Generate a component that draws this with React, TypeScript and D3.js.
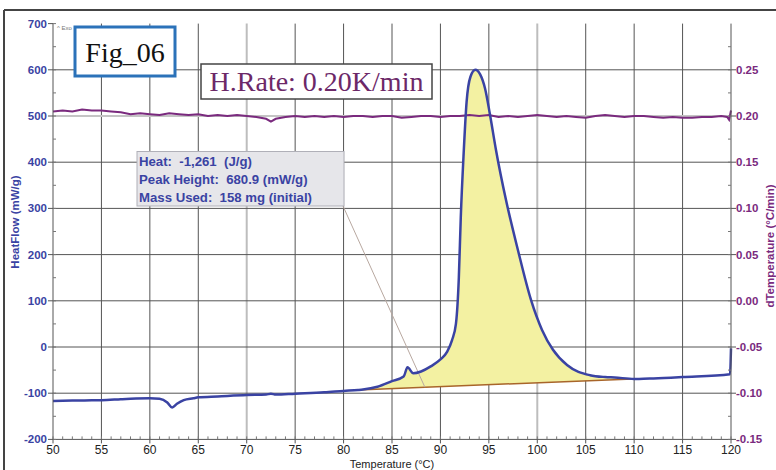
import React from "react";
import * as d3 from "d3";

const heatT = [50, 52, 54, 55, 57, 58, 60, 61, 61.8, 62.3, 62.8, 63.5, 64.5, 65, 67, 70, 72, 72.5, 73, 75, 78, 80, 81.5, 82, 83.5, 85, 86.2, 86.6, 87.2, 88, 89, 90, 90.7, 91.2, 91.6, 91.9, 92.1, 92.4, 92.7, 93.1, 93.6, 94.1, 94.6, 95.1, 95.74, 96.77, 98.0, 99.35, 100.49, 101.62, 103.07, 105.44, 107, 108, 110, 110.5, 112, 115, 119.9, 120];
const heatV = [-117, -116, -115.5, -115, -113, -112, -111, -112, -120, -131, -123, -115, -111, -109, -107, -104, -103, -101, -103, -101, -98, -95, -93, -92, -86, -74, -64, -44, -57, -53, -42, -27, -10, 15, 50, 150, 280, 420, 530, 585, 600, 590, 560, 505, 426, 318, 210, 102, 37, -6, -39, -61, -65, -66, -69, -69, -68, -65, -59, -3];

const dtT = [50, 51, 52, 53, 54, 55, 56, 57, 58, 59, 60, 61, 62, 63, 64, 65, 66, 67, 68, 69, 70, 71, 72, 72.5, 73, 74, 75, 76, 77, 78, 79, 80, 81, 82, 83, 84, 85, 86, 87, 88, 89, 90, 91, 92, 93, 94, 95, 96, 97, 98, 99, 100, 101, 102, 103, 104, 105, 106, 107, 108, 109, 110, 111, 112, 113, 114, 115, 116, 117, 118, 119, 119.6, 119.8, 120];
const dtV = [0.205, 0.206, 0.205, 0.207, 0.206, 0.206, 0.205, 0.204, 0.202, 0.203, 0.202, 0.201, 0.203, 0.202, 0.201, 0.202, 0.2, 0.201, 0.2, 0.201, 0.2, 0.199, 0.197, 0.194, 0.197, 0.199, 0.2, 0.199, 0.2, 0.199, 0.2, 0.199, 0.2, 0.2, 0.199, 0.2, 0.2, 0.198, 0.199, 0.2, 0.2, 0.199, 0.2, 0.2, 0.201, 0.2, 0.201, 0.199, 0.2, 0.199, 0.2, 0.201, 0.2, 0.199, 0.2, 0.199, 0.198, 0.2, 0.201, 0.2, 0.199, 0.2, 0.2, 0.199, 0.198, 0.199, 0.198, 0.198, 0.199, 0.199, 0.2, 0.199, 0.196, 0.206];

const baselineT = [81.5, 110.5];
const baselineV = [-93, -68.5];

const xTicks = [50, 55, 60, 65, 70, 75, 80, 85, 90, 95, 100, 105, 110, 115, 120];
const yTicks = [-200, -100, 0, 100, 200, 300, 400, 500, 600, 700];
const y2Ticks = [-0.15, -0.1, -0.05, 0, 0.05, 0.1, 0.15, 0.2, 0.25];
const infoLines = ["Heat:  -1,261  (J/g)", "Peak Height:  680.9 (mW/g)", "Mass Used:  158 mg (initial)"];

const W = 776, H = 470;
const L = 53, R = 731, T = 23.6, B = 439.4;
const BLUE = "#3a43a3";
const PURPLE = "#7a2a7e";
const SANS = "'Liberation Sans', Arial, sans-serif";
const SERIF = "'Liberation Serif', 'Times New Roman', serif";

export default function App() {
  const x = d3.scaleLinear().domain([50, 120]).range([L, R]);
  const y = d3.scaleLinear().domain([-200, 700]).range([B, T]);
  const y2 = d3.scaleLinear().domain([-0.15, 0.3]).range([B, T]);

  const heat = heatT.map((t, i) => [t, heatV[i]] as [number, number]);
  const dt = dtT.map((t, i) => [t, dtV[i]] as [number, number]);
  const base = (t: number) => baselineV[0] + (t - baselineT[0]) * (baselineV[1] - baselineV[0]) / (baselineT[1] - baselineT[0]);

  const heatLine = d3.line<[number, number]>().x(d => x(d[0])).y(d => y(d[1])).curve(d3.curveMonotoneX);
  const dtLine = d3.line<[number, number]>().x(d => x(d[0])).y(d => y2(d[1])).curve(d3.curveLinear);
  const fillPts = heat.filter(d => d[0] >= baselineT[0] && d[0] <= baselineT[1]);
  const area = d3.area<[number, number]>().x(d => x(d[0])).y0(d => y(base(d[0]))).y1(d => y(Math.max(d[1], base(d[0])))).curve(d3.curveMonotoneX);

  const minorX = d3.range(50, 120.01, 1);
  const minorY = d3.range(-200, 700.01, 50);
  const minorY2 = d3.range(-0.15, 0.2901, 0.025);

  const lightX = [70, 100];

  return (
    <svg width={W} height={H} style={{ position: "absolute", left: 0, top: 0, background: "#fff" }}>
      <rect x={0} y={0} width={W} height={H} fill="#fff" />
      <line x1={4} y1={10} x2={W} y2={10} stroke="#444" strokeWidth={2} />
      <line x1={4} y1={10} x2={4} y2={H} stroke="#444" strokeWidth={2} />

      {xTicks.slice(1, -1).map(t => (
        <line key={"gx" + t} x1={x(t)} x2={x(t)} y1={T} y2={B}
          stroke={lightX.includes(t) ? "#bdbdbd" : "#555"} strokeWidth={lightX.includes(t) ? 2 : 1} />
      ))}
      {yTicks.slice(1, -1).map(v => (
        <line key={"gy" + v} x1={L} x2={R} y1={y(v)} y2={y(v)} stroke={v === 500 ? "#c4c4c4" : "#555"} strokeWidth={v === 500 ? 2 : 1} />
      ))}

      <path d={area(fillPts) || ""} fill="#f3f1a2" />
      <line x1={x(baselineT[0])} y1={y(baselineV[0])} x2={x(baselineT[1])} y2={y(baselineV[1])} stroke="#a8652a" strokeWidth={1.5} />

      <line x1={343} y1={206} x2={x(88.4)} y2={y(base(88.4))} stroke="#b8a8a0" strokeWidth={1} />

      <path d={dtLine(dt) || ""} fill="none" stroke={PURPLE} strokeWidth={2} />
      <path d={heatLine(heat) || ""} fill="none" stroke={BLUE} strokeWidth={2.5} />

      <line x1={L} x2={L} y1={T} y2={B} stroke="#555" strokeWidth={1} />
      <line x1={R} x2={R} y1={T} y2={B} stroke="#555" strokeWidth={1} />
      <line x1={L} x2={R} y1={B} y2={B} stroke="#555" strokeWidth={1} />

      {minorX.map(t => (
        <line key={"mx" + t} x1={x(t)} x2={x(t)} y1={B} y2={B - 3} stroke="#777" />
      ))}
      {minorY.map(v => (
        <line key={"my" + v} x1={L} x2={L + 3} y1={y(v)} y2={y(v)} stroke="#777" />
      ))}
      {minorY2.map((v, i) => (
        <line key={"my2" + i} x1={R} x2={R - 3} y1={y2(v)} y2={y2(v)} stroke="#777" />
      ))}

      {xTicks.map(t => (
        <g key={"xt" + t}>
          <line x1={x(t)} x2={x(t)} y1={B} y2={B + 4} stroke="#555" />
          <text x={x(t)} y={B + 14.5} textAnchor="middle" fontFamily={SANS} fontSize={12} fill="#222">{t}</text>
        </g>
      ))}
      {yTicks.map(v => (
        <g key={"yt" + v}>
          <line x1={L - 5} x2={L} y1={y(v)} y2={y(v)} stroke="#555" />
          <text x={L - 6} y={y(v) + 4} textAnchor="end" fontFamily={SANS} fontSize={11.5} fontWeight="bold" fill={BLUE}>{v}</text>
        </g>
      ))}
      {y2Ticks.map((v, i) => (
        <g key={"y2t" + i}>
          <line x1={R} x2={R + 5} y1={y2(v)} y2={y2(v)} stroke="#555" />
          <text x={R + 5} y={y2(v) + 4} textAnchor="start" fontFamily={SANS} fontSize={11.5} fontWeight="bold" fill={PURPLE}>{v.toFixed(2)}</text>
        </g>
      ))}

      <text x={(L + R) / 2} y={467.5} textAnchor="middle" fontFamily={SANS} fontSize={11} fill="#222">Temperature (°C)</text>
      <text transform={`translate(19,${222}) rotate(-90)`} textAnchor="middle" fontFamily={SANS} fontSize={11.5} fontWeight="bold" fill={BLUE}>HeatFlow (mW/g)</text>
      <text transform={`translate(774,${246}) rotate(-90)`} textAnchor="middle" fontFamily={SANS} fontSize={11.5} fontWeight="bold" fill={PURPLE}>dTemperature (°C/min)</text>

      <text x={57} y={30} fontFamily={SANS} fontSize={6} fill="#777">^ Exo</text>

      <rect x={75} y={27} width={100} height={49} fill="#fff" stroke="#2b72b9" strokeWidth={3} />
      <text x={125} y={62} textAnchor="middle" fontFamily={SERIF} fontSize={28} fill="#111">Fig_06</text>

      <rect x={201} y={64} width={231} height={35} fill="#fff" stroke="#444" strokeWidth={1.5} />
      <text x={316.5} y={91} textAnchor="middle" fontFamily={SERIF} fontSize={28} fill="#6c2868">H.Rate: 0.20K/min</text>

      <rect x={137} y={151.5} width={207} height={54.5} fill="#e6e6ea" stroke="#b0b0b8" strokeWidth={1} />
      {infoLines.map((s, i) => (
        <text key={"info" + i} x={139} y={166 + i * 18} fontFamily={SANS} fontSize={13.2} fontWeight="bold" fill={BLUE} style={{ whiteSpace: "pre" }}>{s}</text>
      ))}
    </svg>
  );
}
